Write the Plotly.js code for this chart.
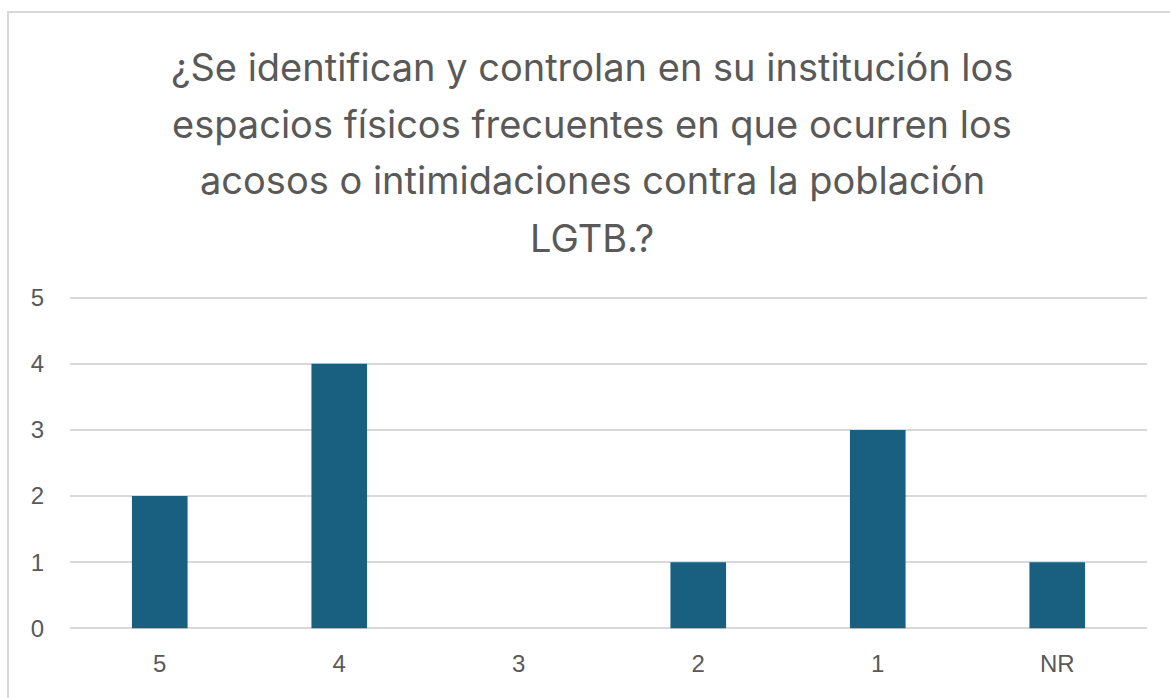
<!DOCTYPE html>
<html><head><meta charset="utf-8">
<script src="https://cdn.plot.ly/plotly-3.0.1.min.js"></script>
<style>
html,body{margin:0;padding:0;background:#fff;overflow:hidden}
#frame{position:absolute;left:7px;top:11px;width:1170px;height:720px;border:2px solid #d9d9d9;box-sizing:border-box}
#chart{position:absolute;left:0;top:0;width:1170px;height:698px}
</style></head>
<body>
<div id="frame"></div>
<div id="chart"></div>
<script>
const categories = ["5","4","3","2","1","NR"];
const values = [2,4,0,1,3,1];
const titleLines = [
  "¿Se identifican y controlan en su institución los",
  "espacios físicos frecuentes en que ocurren los",
  "acosos o intimidaciones contra la población",
  "LGTB.?"
];
const titleY = [68,125,181,238];

const pad = 0.04;            // small range padding so the 0 and 5 gridlines are drawn
const plotTop = 298 - pad*66, plotBot = 628 + pad*66, plotH = plotBot - plotTop;

const annotations = titleLines.map((t,i)=>({
  text:t, xref:'paper', yref:'paper', x:0.485, y:(plotBot-titleY[i])/plotH,
  xanchor:'center', yanchor:'middle', showarrow:false,
  font:{family:'Inter, "Noto Sans", sans-serif', size:38, color:'#595959'}
}));

Plotly.newPlot('chart',[{
  type:'bar', x:categories, y:values,
  marker:{color:'#185F80'}, hoverinfo:'none'
}],{
  width:1170, height:698,
  margin:{l:70,r:23,t:plotTop,b:698-plotBot},
  paper_bgcolor:'rgba(0,0,0,0)', plot_bgcolor:'rgba(0,0,0,0)',
  bargap:0.69,
  showlegend:false,
  font:{family:'"Liberation Sans", Arial, sans-serif', color:'#595959', size:24},
  xaxis:{type:'category', showgrid:false, zeroline:false, showline:false, ticks:'', ticklabelstandoff:16, tickfont:{size:24,color:'#595959'}},
  yaxis:{range:[-pad,5+pad], dtick:1, tick0:0, showgrid:true, gridcolor:'#d9d9d9', gridwidth:2, zeroline:false, showline:false, ticks:'', ticklabelstandoff:25, tickfont:{size:24,color:'#595959'}},
  annotations:annotations
},{displayModeBar:false, staticPlot:true});
</script>
</body></html>
